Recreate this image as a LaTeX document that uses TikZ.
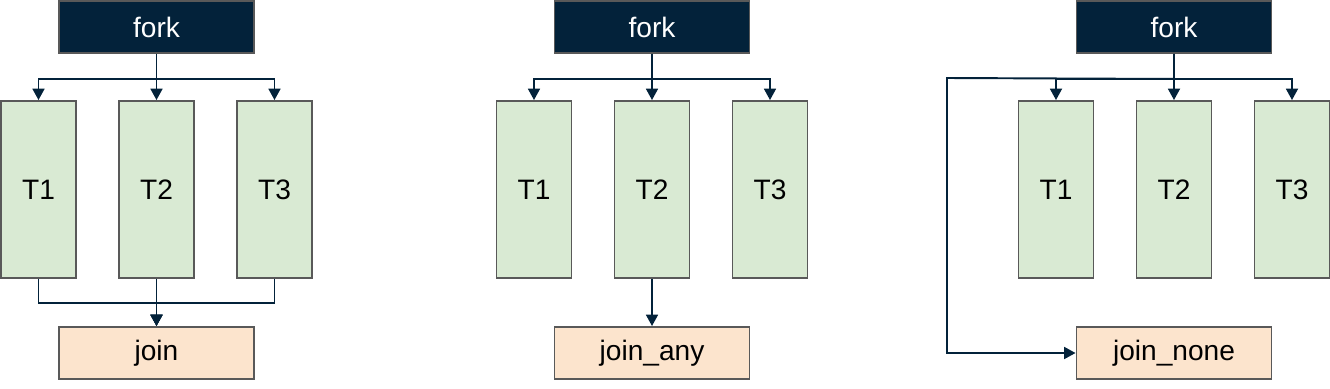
\documentclass[tikz,border=0pt]{standalone}
\usepackage{fontspec}
\setmainfont{Liberation Sans}
\usetikzlibrary{arrows.meta}
\definecolor{navy}{HTML}{03223A}
\definecolor{boxgray}{HTML}{595959}
\definecolor{taskgreen}{HTML}{D9EAD3}
\definecolor{joinpeach}{HTML}{FCE4CD}
\begin{document}
\begin{tikzpicture}[x=0.02cm, y=-0.02cm, >={Triangle[length=6.5pt,width=6.8pt]},
    forkbox/.style={draw=boxgray, line width=1.1pt, fill=navy, text=white, minimum width=3.9cm, minimum height=1.04cm, font=\fontsize{16}{19}\selectfont},
    taskbox/.style={draw=boxgray, line width=1.1pt, fill=taskgreen, minimum width=1.5cm, minimum height=3.54cm, font=\fontsize{16}{19}\selectfont},
    joinbox/.style={draw=boxgray, line width=1.1pt, fill=joinpeach, minimum width=3.9cm, minimum height=1.04cm, font=\fontsize{16}{19}\selectfont},
    conn/.style={draw=navy, line width=1.1pt}]
    \useasboundingbox (0,0) rectangle (1330,389);
    % Ba so do: fork, T1..T3
    \foreach \i/\cx in {1/156.5, 2/652, 3/1174} {
        \node[forkbox] (fork\i) at (\cx,27) {fork};
        \node[taskbox] (ta\i) at (\cx-118,189.5) {T1};
        \node[taskbox] (tb\i) at (\cx,189.5) {T2};
        \node[taskbox] (tc\i) at (\cx+118,189.5) {T3};
        \draw[conn,->] (fork\i.south) -- ++(0,25) -| (ta\i.north);
        \draw[conn,->] (fork\i.south) -- (tb\i.north);
        \draw[conn,->] (fork\i.south) -- ++(0,25) -| (tc\i.north);
    }
    % join
    \node[joinbox] (join1) at (156.5,353) {join};
    \draw[conn,->] (ta1.south) -- ++(0,24) -| (join1.north);
    \draw[conn,->] (tc1.south) -- ++(0,24) -| (join1.north);
    \draw[conn,->] (tb1.south) -- (join1.north);
    % join_any
    \node[joinbox] (join2) at (652,353) {join\_any};
    \draw[conn,->] (tb2.south) -- (join2.north);
    % join_none
    \node[joinbox] (join3) at (1174,353) {join\_none};
    \coordinate (bend3) at (947,78);
    \draw[conn,->] (fork3.south) -- ++(0,25) -- (bend3) |- (join3.west);
\end{tikzpicture}
\end{document}
